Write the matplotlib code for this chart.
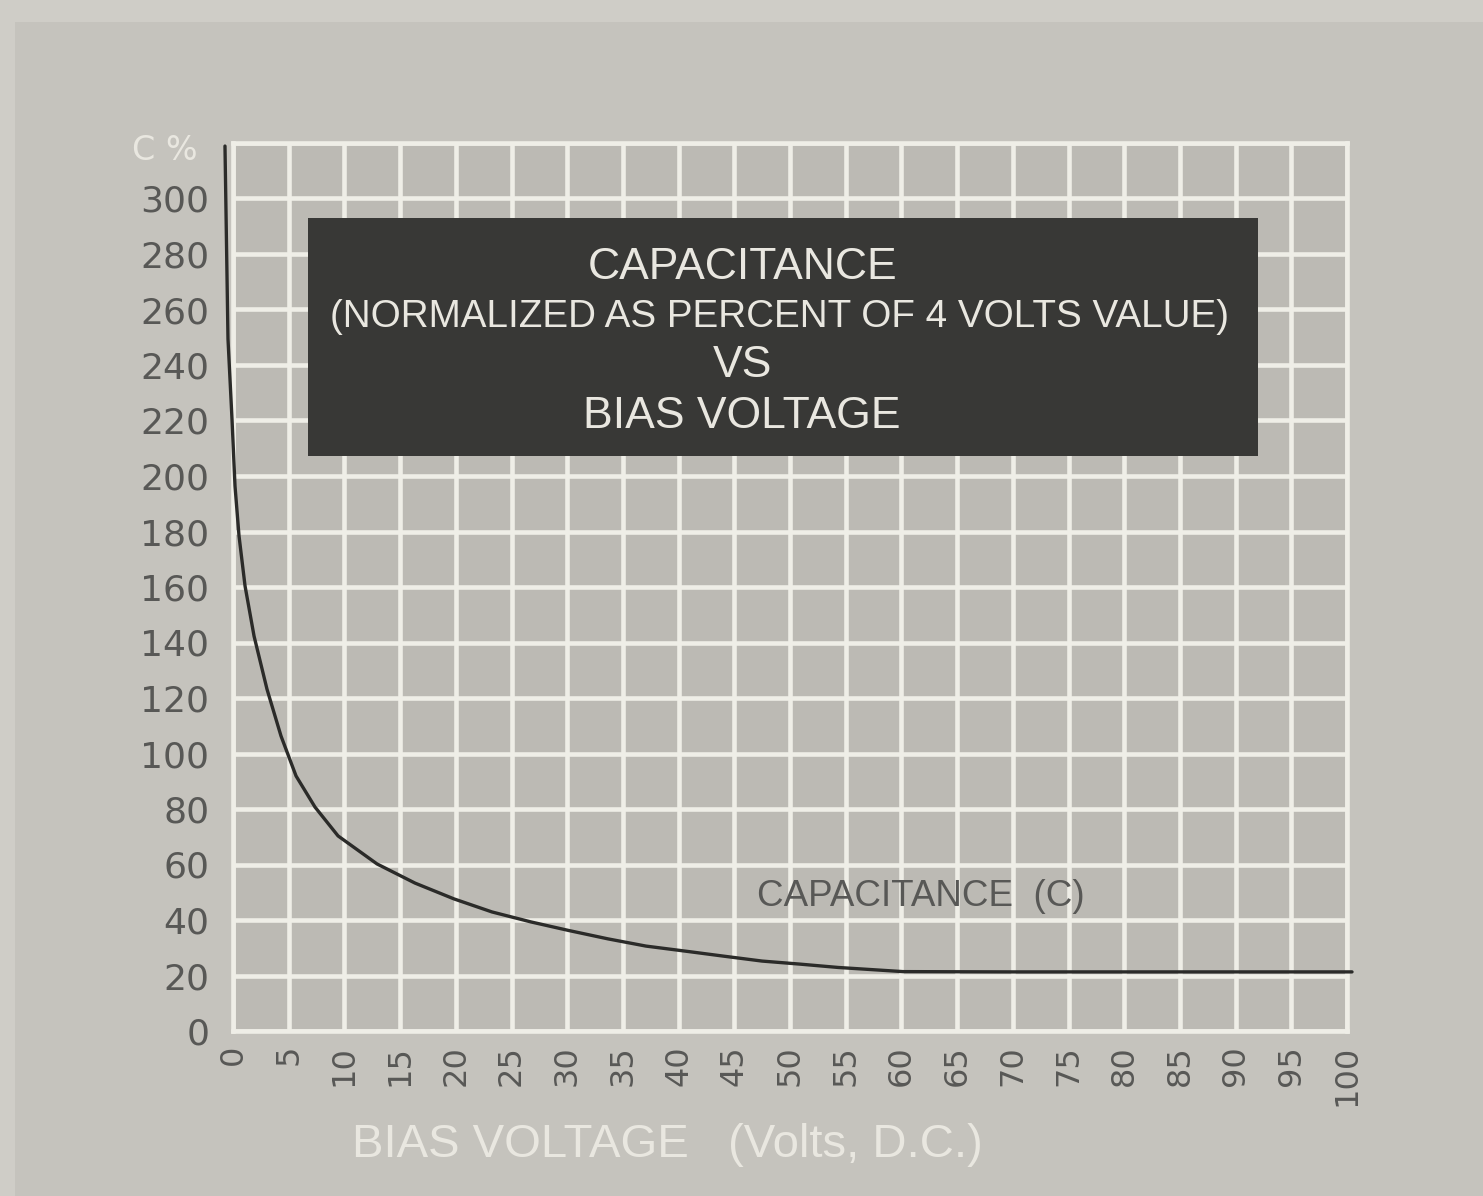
import matplotlib
matplotlib.use("Agg")
import matplotlib.pyplot as plt
from matplotlib.patches import Rectangle

# ---- data ----
bias_voltage = [-0.72, -0.45, -0.09, 0.18, 0.54, 1.08, 1.89, 3.05, 4.31, 5.66, 7.36,
                9.43, 12.93, 16.34, 19.84, 23.25, 26.75, 30.16, 33.66, 37.07, 40.57,
                43.99, 47.49, 50.90, 54.31, 60.14, 70.0, 80.0, 90.0, 100.45]
capacitance_pct = [318.9, 249.4, 220.5, 196.4, 178.4, 160.4, 142.3, 123.2, 106.3, 91.9, 80.7,
                   70.3, 60.2, 53.3, 47.6, 42.9, 39.3, 36.2, 33.2, 30.6, 28.8,
                   27.0, 25.2, 24.1, 22.9, 21.4, 21.3, 21.3, 21.3, 21.3]
x_ticks = list(range(0, 101, 5))
y_ticks = list(range(0, 301, 20))
title_lines = ["CAPACITANCE", "(NORMALIZED AS PERCENT OF 4 VOLTS VALUE)", "VS", "BIAS VOLTAGE"]
curve_label = "CAPACITANCE  (C)"
x_label = "BIAS VOLTAGE   (Volts, D.C.)"
y_unit = "C %"

# ---- style ----
FIG_BG = "#cfcdc7"
PANEL_BG = "#c5c3bd"
CELL_BG = "#bcbab4"
GRID = "#efeee7"
INK = "#585856"
PALE = "#e9e7e0"
BOX = "#383836"
CURVE = "#2b2b29"

plt.rcParams["font.family"] = ["Liberation Sans", "DejaVu Sans"]

fig = plt.figure(figsize=(14.83, 11.96), dpi=100, facecolor=FIG_BG)
fig.patches.append(Rectangle((15 / 1483, 0), 1, 1 - 22 / 1196, transform=fig.transFigure,
                             facecolor=PANEL_BG, edgecolor="none", zorder=-10))

ax = fig.add_axes([233 / 1483, 1 - 1031 / 1196, (1347 - 233) / 1483, (1031 - 143) / 1196])
ax.set_facecolor(CELL_BG)
ax.set_xlim(0, 100)
ax.set_ylim(0, 320)

ax.set_xticks(x_ticks)
ax.set_yticks(y_ticks + [320])
ax.set_xticklabels([str(v) for v in x_ticks], rotation=90, fontsize=23, color=INK,
                   family="DejaVu Sans", va="top")
ax.set_yticklabels([str(v) for v in y_ticks] + [""], fontsize=26, color=INK, family="DejaVu Sans")
ax.tick_params(axis="both", length=0)
ax.tick_params(axis="x", pad=10)
ax.tick_params(axis="y", pad=17)
ax.grid(True, color=GRID, linewidth=3.3, zorder=1)
ax.set_axisbelow(True)
for s in ax.spines.values():
    s.set_color(GRID)
    s.set_linewidth(3.3)

ax.plot(bias_voltage, capacitance_pct, color=CURVE, linewidth=2.4, clip_on=False, zorder=5,
        solid_capstyle="round", solid_joinstyle="round")

# title box
ax.add_patch(Rectangle((0.0673, 0.647), 0.853, 0.268, transform=ax.transAxes,
                       facecolor=BOX, edgecolor="none", zorder=6))
title_x = [0.457, 0.491, 0.457, 0.457]
title_y = [0.860, 0.804, 0.749, 0.692]
title_sizes = [32, 27.8, 32, 32]
for txt, xx, yy, fs in zip(title_lines, title_x, title_y, title_sizes):
    ax.text(xx, yy, txt, transform=ax.transAxes, ha="center", va="center",
            fontsize=fs, color=PALE, zorder=7)

ax.text(61.7, 48.4, curve_label, ha="center", va="center", fontsize=26.5, color=INK, zorder=4)

fig.text(667 / 1483, 1 - 1145 / 1196, x_label, ha="center", va="center", fontsize=34, color=PALE)
fig.text(165 / 1483, 1 - 150 / 1196, y_unit, ha="center", va="center", fontsize=24,
         color=PALE, family="DejaVu Sans")

fig.savefig("out.png", dpi=100, facecolor=FIG_BG)
